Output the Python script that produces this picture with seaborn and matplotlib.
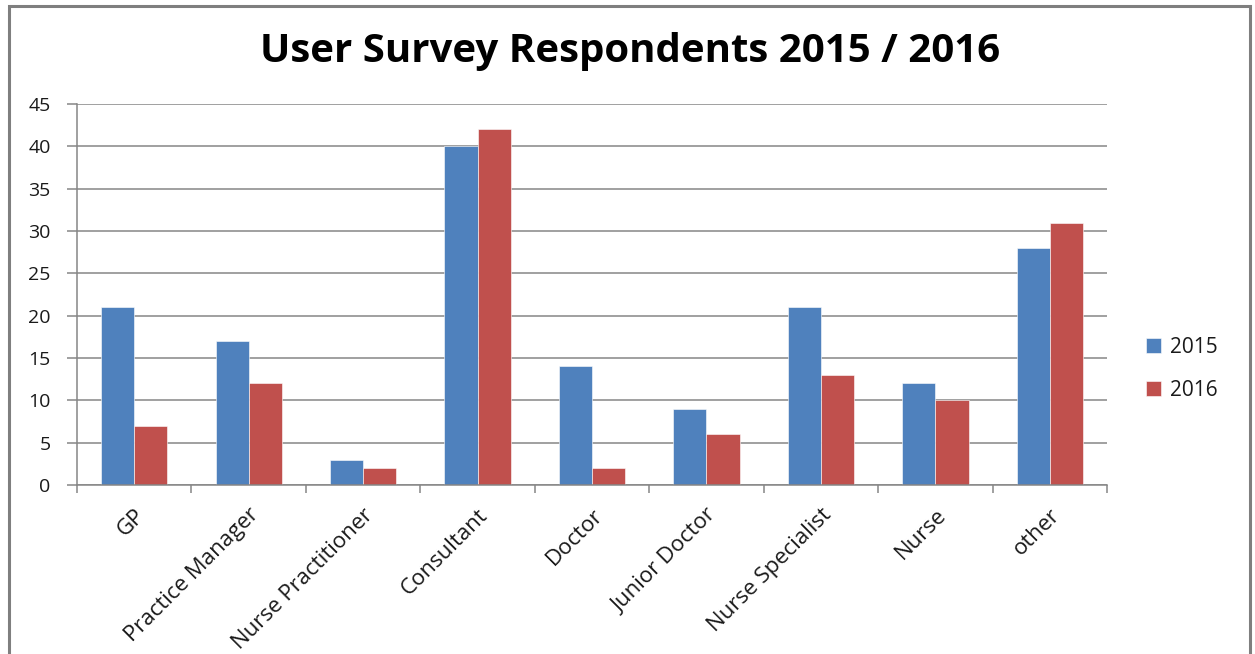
import matplotlib
matplotlib.use("Agg")
import matplotlib.pyplot as plt
from matplotlib.patches import Rectangle
import numpy as np
import pandas as pd
import seaborn as sns

categories = ["GP", "Practice Manager", "Nurse Practitioner", "Consultant", "Doctor",
              "Junior Doctor", "Nurse Specialist", "Nurse", "other"]
values_2015 = [21, 17, 3, 40, 14, 9, 21, 12, 28]
values_2016 = [7, 12, 2, 42, 2, 6, 13, 10, 31]
years = ["2015", "2016"]
colors = ["#4F81BD", "#C0504D"]
y_ticks = [0, 5, 10, 15, 20, 25, 30, 35, 40, 45]

df = pd.DataFrame({
    "category": categories * 2,
    "year": [years[0]] * len(categories) + [years[1]] * len(categories),
    "count": values_2015 + values_2016,
})

sns.set_theme(style="white")
plt.rcParams["font.family"] = ["Open Sans", "DejaVu Sans"]

fig = plt.figure(figsize=(12.55, 6.54), dpi=100)
ax = fig.add_axes([0.0614, 0.2584, 0.8207, 0.5826])

sns.barplot(data=df, x="category", y="count", hue="year", palette=colors,
            order=categories, hue_order=years, width=0.58, gap=0,
            saturation=1, ax=ax, legend=True)

grid_c = "#868686"
text_c = "#1a1a1a"
ax.set_ylim(0, 45)
ax.set_xlim(-0.5, len(categories) - 0.5)
ax.set_yticks(y_ticks)
ax.set_yticklabels([str(v) for v in y_ticks], fontsize=14, color=text_c)
ax.yaxis.grid(True, color=grid_c, linewidth=1.1)
ax.set_axisbelow(True)

# category labels at centres, tick marks at boundaries
ax.set_xticks(np.arange(-0.5, len(categories), 1.0))
ax.set_xticklabels([])
ax.set_xticks(np.arange(len(categories)), minor=True)
ax.set_xticklabels(categories, minor=True, rotation=45, ha="right",
                   rotation_mode="anchor", fontsize=16, color=text_c)
ax.tick_params(axis="x", which="major", direction="out", length=6, width=1.1,
               color=grid_c, bottom=True)
ax.tick_params(axis="x", which="minor", length=0, pad=14)
ax.tick_params(axis="y", direction="out", length=7, width=1.1, color=grid_c,
               left=True, pad=12)

for s in ["top", "right"]:
    ax.spines[s].set_visible(False)
for s in ["left", "bottom"]:
    ax.spines[s].set_color(grid_c)
    ax.spines[s].set_linewidth(1.1)

ax.set_xlabel("")
ax.set_ylabel("")

for p in ax.patches:
    p.set_edgecolor("white")
    p.set_linewidth(0.4)

leg = ax.legend(loc="center left", bbox_to_anchor=(1.02, 0.305), frameon=False,
                fontsize=15, handlelength=0.7, handleheight=0.7,
                handletextpad=0.45, labelspacing=1.05)
for t in leg.get_texts():
    t.set_color(text_c)

fig.text(0.502, 0.922, "User Survey Respondents 2015 / 2016", ha="center",
         va="center", fontsize=29, fontweight="bold", color="black")

# chart-area frame
fig.patches.append(Rectangle((9 / 1255, -0.05), (1250 - 9) / 1255, 1.05 - 6 / 654,
                             transform=fig.transFigure, fill=False,
                             edgecolor="#7f7f7f", linewidth=2.2))

fig.savefig("out.png", dpi=100)
